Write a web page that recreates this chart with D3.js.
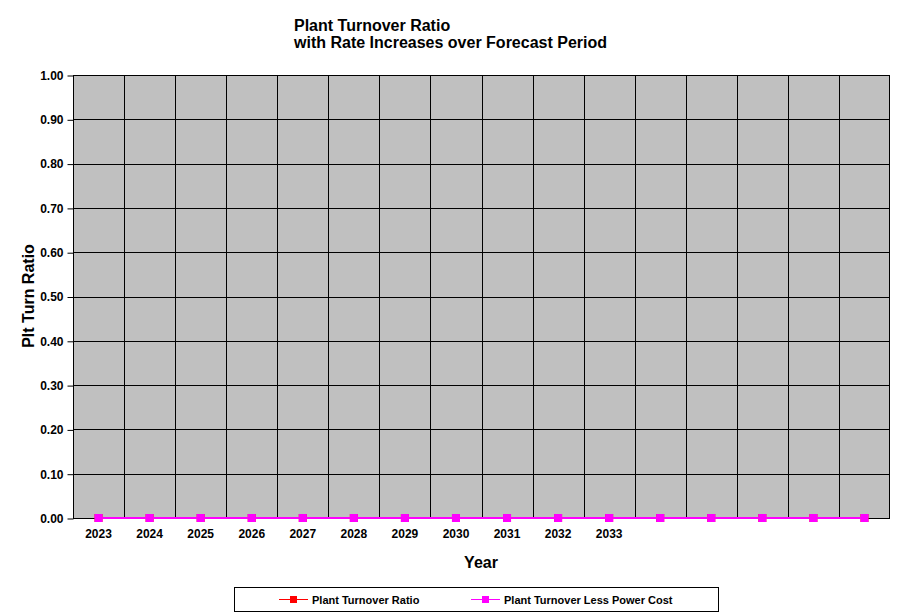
<!DOCTYPE html>
<html><head><meta charset="utf-8">
<script src="https://cdn.jsdelivr.net/npm/d3@7"></script>
<style>body{margin:0;background:#fff;} text{font-family:"Liberation Sans",Arial,sans-serif;font-weight:bold;}</style>
</head><body>
<svg id="c" width="900" height="612"></svg>
<script>
const categories = ["2023","2024","2025","2026","2027","2028","2029","2030","2031","2032","2033","","","","",""];
const plantTurnoverRatio = [0,0,0,0,0,0,0,0,0,0,0,0,0,0,0,0];
const plantTurnoverLessPower = [0,0,0,0,0,0,0,0,0,0,0,0,0,0,0,0];
const yTicks = [0,0.1,0.2,0.3,0.4,0.5,0.6,0.7,0.8,0.9,1.0];
const seriesNames = ["Plant Turnover Ratio","Plant Turnover Less Power Cost"];
const seriesColors = ["#ff0000","#ff00ff"];

const svg = d3.select("#c");
const L=73,R=890,T=75,B=518;
const x = d3.scaleBand().domain(d3.range(categories.length)).range([L,R]);
const y = d3.scaleLinear().domain([0,1]).range([B,T]);

svg.append("rect").attr("x",L).attr("y",T).attr("width",R-L).attr("height",B-T).attr("fill","#c0c0c0");
// horizontal gridlines
svg.append("g").selectAll("line").data(yTicks).join("line")
  .attr("x1",L).attr("x2",R).attr("y1",d=>Math.round(y(d))+0.5).attr("y2",d=>Math.round(y(d))+0.5)
  .attr("stroke","#000").attr("stroke-width",1);
// vertical gridlines
svg.append("g").selectAll("line").data(d3.range(1,categories.length)).join("line")
  .attr("x1",d=>Math.round(x(d))+0.5).attr("x2",d=>Math.round(x(d))+0.5).attr("y1",T).attr("y2",B)
  .attr("stroke","#000");
// border
svg.append("rect").attr("x",L+0.5).attr("y",T+0.5).attr("width",R-L-1).attr("height",B-T).attr("fill","none").attr("stroke","#000");

// y axis
const ya = d3.axisLeft(y).tickValues(yTicks).tickFormat(d3.format(".2f")).tickSize(6).tickPadding(4);
const gy = svg.append("g").attr("transform",`translate(${L+0.5},0.5)`).call(ya);
gy.select(".domain").remove();
gy.selectAll("text").attr("font-size",12).attr("fill","#000").style("font-weight","bold").attr("font-family","Liberation Sans, Arial, sans-serif");
gy.selectAll("line").attr("stroke","#000");

// x axis labels
const xa = d3.axisBottom(x).tickFormat(i=>categories[i]).tickSize(0).tickPadding(11);
const gx = svg.append("g").attr("transform",`translate(0,${B})`).call(xa);
gx.select(".domain").remove();
gx.selectAll("text").attr("font-size",12).attr("fill","#000").style("font-weight","bold").attr("font-family","Liberation Sans, Arial, sans-serif");

// lines
const line = d3.line().x((d,i)=>x(i)+x.bandwidth()/2).y(d=>y(d));
[plantTurnoverRatio,plantTurnoverLessPower].forEach((s,k)=>{
  svg.append("path").datum(s).attr("d",line).attr("fill","none").attr("stroke",seriesColors[k]).attr("stroke-width",2);
  svg.append("g").selectAll("rect").data(s).join("rect")
    .attr("x",(d,i)=>x(i)+x.bandwidth()/2-4).attr("y",d=>y(d)-4).attr("width",8).attr("height",8).attr("fill",seriesColors[k]);
});

// titles
const t = svg.append("text").attr("x",294).attr("y",31).attr("font-size",16).attr("fill","#000");
t.append("tspan").attr("x",294).text("Plant Turnover Ratio");
t.append("tspan").attr("x",294).attr("dy",17).text("with Rate Increases over Forecast Period");
svg.append("text").attr("x",481).attr("y",568).attr("text-anchor","middle").attr("font-size",16).text("Year");
svg.append("text").attr("transform","translate(34,296) rotate(-90)").attr("text-anchor","middle").attr("font-size",16).text("Plt Turn Ratio");

// legend
svg.append("rect").attr("x",234.5).attr("y",587.5).attr("width",484).attr("height",24).attr("fill","#fff").attr("stroke","#000");
const lx=[279,471];
seriesNames.forEach((n,k)=>{
  const g=svg.append("g").attr("transform",`translate(${lx[k]},599.5)`);
  g.append("line").attr("x1",0).attr("x2",29).attr("stroke",seriesColors[k]);
  g.append("rect").attr("x",11).attr("y",-3.5).attr("width",7).attr("height",7).attr("fill",seriesColors[k]);
  g.append("text").attr("x",33).attr("y",4).attr("font-size",11).text(n);
});
</script>
</body></html>
